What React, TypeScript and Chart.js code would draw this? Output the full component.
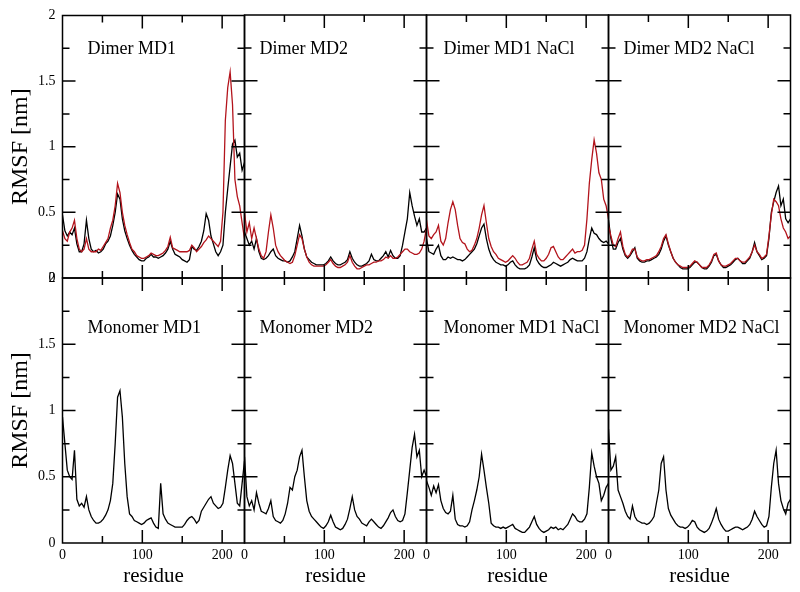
import React, { useEffect, useRef } from "react";
import { Chart, registerables } from "chart.js";

Chart.register(...registerables);

// ---------------- data ----------------
const RESIDUES = [
  0, 3, 6, 9, 12, 15, 18, 21, 24, 27,
  30, 33, 36, 39, 42, 45, 48, 51, 54, 57,
  60, 63, 66, 69, 72, 75, 78, 81, 84, 87,
  90, 93, 96, 99, 102, 105, 108, 111, 114, 117,
  120, 123, 126, 129, 132, 135, 138, 141, 144, 147,
  150, 153, 156, 159, 162, 165, 168, 171, 174, 177,
  180, 183, 186, 189, 192, 195, 198, 201, 204, 207,
  210, 213, 216, 219, 222, 225, 228,
];

const X_TICK_LABELS = [0, 100, 200];
const Y_TICK_LABELS = [0, 0.5, 1, 1.5, 2];
const X_MAJOR_TICKS = [100, 200];
const X_MINOR_TICKS = [50, 150];
const Y_MAJOR_TICKS = [0.5, 1, 1.5];
const Y_MINOR_TICKS = [0.25, 0.75, 1.25, 1.75];
const X_MAX = 228;
const Y_MAX = 2;

const DIMER_MD1_BLACK = [
  0.48, 0.36, 0.32, 0.35, 0.33, 0.38, 0.26, 0.20, 0.20, 0.26,
  0.44, 0.30, 0.22, 0.20, 0.21, 0.19, 0.20, 0.22, 0.26, 0.28,
  0.32, 0.40, 0.50, 0.64, 0.60, 0.45, 0.36, 0.30, 0.25, 0.21,
  0.18, 0.16, 0.14, 0.13, 0.13, 0.15, 0.16, 0.18, 0.16, 0.16,
  0.15, 0.16, 0.17, 0.19, 0.22, 0.28, 0.22, 0.18, 0.17, 0.16,
  0.14, 0.13, 0.12, 0.14, 0.24, 0.22, 0.21, 0.24, 0.28, 0.36,
  0.49, 0.44, 0.32, 0.26, 0.20, 0.17, 0.20, 0.25, 0.50, 0.68,
  0.85, 1.02, 1.05, 0.92, 0.95, 0.82, 0.88,
];
const DIMER_MD1_RED = [
  0.36, 0.30, 0.28, 0.35, 0.38, 0.44, 0.30, 0.22, 0.20, 0.22,
  0.30, 0.22, 0.20, 0.20, 0.20, 0.22, 0.21, 0.24, 0.27, 0.30,
  0.38, 0.44, 0.55, 0.72, 0.65, 0.50, 0.40, 0.33, 0.27, 0.22,
  0.20, 0.17, 0.16, 0.15, 0.15, 0.16, 0.17, 0.19, 0.18, 0.17,
  0.17, 0.18, 0.19, 0.21, 0.24, 0.31, 0.23, 0.22, 0.21, 0.20,
  0.20, 0.20, 0.20, 0.21, 0.25, 0.23, 0.20, 0.22, 0.24, 0.27,
  0.29, 0.32, 0.30, 0.28, 0.26, 0.24, 0.28, 0.50, 1.20, 1.45,
  1.57, 1.32, 0.75, 0.62, 0.55, 0.42, 0.30,
];

const DIMER_MD2_BLACK = [
  0.35, 0.30, 0.25, 0.28, 0.22, 0.30, 0.20, 0.15, 0.14, 0.15,
  0.17, 0.20, 0.22, 0.17, 0.15, 0.14, 0.13, 0.13, 0.12, 0.13,
  0.16, 0.20, 0.30, 0.40, 0.32, 0.22, 0.16, 0.14, 0.12, 0.11,
  0.10, 0.10, 0.10, 0.10, 0.11, 0.13, 0.16, 0.13, 0.11, 0.10,
  0.10, 0.11, 0.12, 0.14, 0.20, 0.15, 0.12, 0.10, 0.09, 0.09,
  0.10, 0.11, 0.13, 0.18, 0.14, 0.13, 0.13, 0.15, 0.17, 0.20,
  0.16, 0.21, 0.17, 0.15, 0.15, 0.17, 0.25, 0.35, 0.45, 0.65,
  0.55, 0.47, 0.40, 0.45, 0.35, 0.35, 0.38,
];
const DIMER_MD2_RED = [
  0.50, 0.35, 0.42, 0.30, 0.38, 0.30, 0.22, 0.17, 0.15, 0.20,
  0.35, 0.48, 0.38, 0.25, 0.20, 0.17, 0.15, 0.13, 0.12, 0.11,
  0.12, 0.17, 0.25, 0.33, 0.30, 0.22, 0.16, 0.12, 0.10, 0.09,
  0.09, 0.09, 0.09, 0.09, 0.10, 0.12, 0.14, 0.11, 0.09, 0.08,
  0.08, 0.09, 0.10, 0.12, 0.17, 0.12, 0.09, 0.07, 0.07, 0.08,
  0.09, 0.10, 0.10, 0.11, 0.12, 0.12, 0.13, 0.13, 0.14, 0.16,
  0.15, 0.17, 0.15, 0.15, 0.16, 0.18, 0.20, 0.22, 0.22, 0.20,
  0.19, 0.18, 0.18, 0.19, 0.22, 0.28, 0.38,
];

const DIMER_MD1_NACL_BLACK = [
  0.30, 0.20, 0.19, 0.18, 0.22, 0.25, 0.17, 0.14, 0.14, 0.16,
  0.15, 0.16, 0.15, 0.14, 0.14, 0.13, 0.14, 0.16, 0.18, 0.20,
  0.22, 0.26, 0.32, 0.38, 0.41, 0.30, 0.22, 0.17, 0.14, 0.12,
  0.11, 0.10, 0.10, 0.09, 0.10, 0.12, 0.13, 0.10, 0.08, 0.07,
  0.07, 0.07, 0.08, 0.10, 0.16, 0.23, 0.14, 0.11, 0.09, 0.08,
  0.08, 0.09, 0.10, 0.12, 0.11, 0.10, 0.09, 0.10, 0.11, 0.12,
  0.14, 0.15, 0.14, 0.13, 0.13, 0.13, 0.15, 0.20, 0.30, 0.38,
  0.34, 0.33, 0.30, 0.28, 0.27, 0.28, 0.26,
];
const DIMER_MD1_NACL_RED = [
  0.44, 0.32, 0.30, 0.33, 0.35, 0.40, 0.28, 0.25, 0.30, 0.42,
  0.52, 0.58, 0.52, 0.40, 0.30, 0.27, 0.26, 0.22, 0.20, 0.21,
  0.25, 0.30, 0.38, 0.48, 0.55, 0.42, 0.30, 0.24, 0.20, 0.18,
  0.15, 0.14, 0.13, 0.12, 0.13, 0.15, 0.17, 0.15, 0.12, 0.10,
  0.10, 0.11, 0.12, 0.15, 0.22, 0.28, 0.18, 0.15, 0.13, 0.13,
  0.15, 0.18, 0.23, 0.24, 0.20, 0.16, 0.14, 0.14, 0.16, 0.18,
  0.20, 0.22, 0.19, 0.20, 0.20, 0.21, 0.25, 0.45, 0.72, 0.90,
  1.05, 0.95, 0.80, 0.75, 0.60, 0.55, 0.45,
];

const DIMER_MD2_NACL_BLACK = [
  0.44, 0.30, 0.22, 0.22, 0.27, 0.30, 0.22, 0.17, 0.15, 0.17,
  0.20, 0.23, 0.15, 0.13, 0.12, 0.12, 0.13, 0.13, 0.14, 0.15,
  0.16, 0.18, 0.22, 0.28, 0.32, 0.25, 0.20, 0.15, 0.12, 0.10,
  0.08, 0.07, 0.07, 0.07, 0.08, 0.10, 0.12, 0.12, 0.10, 0.08,
  0.07, 0.07, 0.09, 0.12, 0.17, 0.18, 0.13, 0.10, 0.08, 0.08,
  0.09, 0.10, 0.12, 0.14, 0.15, 0.13, 0.11, 0.11, 0.13, 0.15,
  0.20, 0.27, 0.20, 0.17, 0.14, 0.15, 0.17, 0.30, 0.50, 0.58,
  0.65, 0.70, 0.55, 0.60, 0.45, 0.42, 0.45,
];
const DIMER_MD2_NACL_RED = [
  0.40, 0.32, 0.25, 0.24, 0.30, 0.35, 0.24, 0.18, 0.16, 0.18,
  0.22, 0.22, 0.16, 0.14, 0.13, 0.13, 0.14, 0.14, 0.15, 0.16,
  0.17, 0.20, 0.24, 0.30, 0.33, 0.26, 0.20, 0.15, 0.12, 0.10,
  0.09, 0.08, 0.08, 0.08, 0.09, 0.11, 0.13, 0.12, 0.10, 0.08,
  0.08, 0.08, 0.10, 0.13, 0.18, 0.19, 0.13, 0.10, 0.09, 0.09,
  0.10, 0.11, 0.13, 0.15, 0.15, 0.13, 0.12, 0.12, 0.14, 0.16,
  0.20, 0.25, 0.20, 0.18, 0.15, 0.16, 0.18, 0.32, 0.48, 0.60,
  0.58, 0.55, 0.45, 0.38, 0.35, 0.30, 0.32,
];

const MONOMER_MD1 = [
  0.95, 0.75, 0.55, 0.50, 0.48, 0.70, 0.33, 0.28, 0.30, 0.27,
  0.35, 0.25, 0.20, 0.17, 0.15, 0.15, 0.16, 0.18, 0.21, 0.25,
  0.32, 0.45, 0.75, 1.10, 1.15, 0.95, 0.60, 0.35, 0.22, 0.20,
  0.17, 0.16, 0.15, 0.14, 0.15, 0.17, 0.18, 0.19, 0.15, 0.12,
  0.11, 0.45, 0.22, 0.18, 0.15, 0.14, 0.13, 0.12, 0.12, 0.12,
  0.12, 0.14, 0.17, 0.19, 0.20, 0.18, 0.15, 0.17, 0.24, 0.27,
  0.30, 0.33, 0.35, 0.30, 0.28, 0.26, 0.27, 0.30, 0.42, 0.55,
  0.66, 0.60, 0.45, 0.30, 0.28, 0.45, 0.62,
];
const MONOMER_MD2 = [
  0.65, 0.35, 0.28, 0.32, 0.25, 0.38, 0.30, 0.24, 0.23, 0.22,
  0.26, 0.32, 0.20, 0.17, 0.16, 0.15, 0.17, 0.22, 0.30, 0.42,
  0.40, 0.50, 0.55, 0.65, 0.70, 0.50, 0.32, 0.24, 0.20, 0.18,
  0.16, 0.14, 0.12, 0.11, 0.13, 0.16, 0.21, 0.16, 0.12, 0.11,
  0.10, 0.11, 0.14, 0.18, 0.26, 0.35, 0.25, 0.20, 0.18, 0.15,
  0.14, 0.13, 0.16, 0.18, 0.16, 0.14, 0.12, 0.11, 0.13, 0.16,
  0.19, 0.23, 0.25, 0.20, 0.17, 0.16, 0.17, 0.22, 0.38, 0.55,
  0.72, 0.82, 0.65, 0.70, 0.50, 0.55, 0.50,
];
const MONOMER_MD1_NACL = [
  0.47, 0.42, 0.36, 0.43, 0.38, 0.44, 0.32, 0.26, 0.23, 0.22,
  0.24, 0.36, 0.18, 0.14, 0.13, 0.13, 0.12, 0.13, 0.16, 0.25,
  0.32, 0.40, 0.50, 0.67, 0.55, 0.42, 0.30, 0.15, 0.13, 0.12,
  0.12, 0.11, 0.12, 0.11, 0.12, 0.13, 0.14, 0.11, 0.10, 0.09,
  0.08, 0.08, 0.10, 0.12, 0.16, 0.20, 0.14, 0.11, 0.09, 0.08,
  0.09, 0.10, 0.12, 0.11, 0.12, 0.10, 0.11, 0.10, 0.12, 0.14,
  0.18, 0.22, 0.20, 0.17, 0.16, 0.16, 0.18, 0.22, 0.42, 0.68,
  0.58, 0.50, 0.45, 0.32, 0.36, 0.42, 0.45,
];
const MONOMER_MD2_NACL = [
  0.86, 0.55, 0.58, 0.65, 0.40, 0.35, 0.30, 0.24, 0.20, 0.18,
  0.28, 0.20, 0.17, 0.16, 0.15, 0.15, 0.14, 0.15, 0.17, 0.20,
  0.30, 0.40, 0.60, 0.65, 0.40, 0.26, 0.21, 0.18, 0.15, 0.13,
  0.12, 0.12, 0.11, 0.12, 0.14, 0.17, 0.16, 0.12, 0.10, 0.09,
  0.08, 0.09, 0.11, 0.15, 0.20, 0.26, 0.18, 0.14, 0.11, 0.09,
  0.09, 0.10, 0.11, 0.12, 0.12, 0.11, 0.10, 0.11, 0.12, 0.14,
  0.18, 0.24, 0.20, 0.17, 0.14, 0.12, 0.13, 0.20, 0.42, 0.60,
  0.70, 0.45, 0.32, 0.26, 0.22, 0.30, 0.33,
];

const PANEL_TITLES = [
  "Dimer MD1", "Dimer MD2", "Dimer MD1 NaCl", "Dimer MD2 NaCl",
  "Monomer MD1", "Monomer MD2", "Monomer MD1 NaCl", "Monomer MD2 NaCl",
];
const Y_TITLE = "RMSF [nm]";
const X_TITLE = "residue";

// ---------------- styling / layout ----------------
const W = 800;
const H = 592;
const FONT = '"Liberation Serif", "Times New Roman", serif';
const BLACK = "#000000";
const RED = "#b3141c";
const COL_LEFT = [62.5, 244.5, 426.5, 608.5];
const PANEL_W = 182;
const ROW_TOP = [15, 278];
const ROW_BOTTOM = [278, 543];
const TITLE_DX = [25, 15, 17, 15];
const TITLE_DY = [39, 55];
const MAJOR_LEN = 13;
const MINOR_LEN = 7;

type Series = { values: number[]; color: string; order: number };
type PanelCfg = { title: string; row: number; col: number; series: Series[] };

const PANELS: PanelCfg[] = [
  { title: PANEL_TITLES[0], row: 0, col: 0, series: [{ values: DIMER_MD1_BLACK, color: BLACK, order: 1 }, { values: DIMER_MD1_RED, color: RED, order: 0 }] },
  { title: PANEL_TITLES[1], row: 0, col: 1, series: [{ values: DIMER_MD2_BLACK, color: BLACK, order: 1 }, { values: DIMER_MD2_RED, color: RED, order: 0 }] },
  { title: PANEL_TITLES[2], row: 0, col: 2, series: [{ values: DIMER_MD1_NACL_BLACK, color: BLACK, order: 1 }, { values: DIMER_MD1_NACL_RED, color: RED, order: 0 }] },
  { title: PANEL_TITLES[3], row: 0, col: 3, series: [{ values: DIMER_MD2_NACL_BLACK, color: BLACK, order: 1 }, { values: DIMER_MD2_NACL_RED, color: RED, order: 0 }] },
  { title: PANEL_TITLES[4], row: 1, col: 0, series: [{ values: MONOMER_MD1, color: BLACK, order: 0 }] },
  { title: PANEL_TITLES[5], row: 1, col: 1, series: [{ values: MONOMER_MD2, color: BLACK, order: 0 }] },
  { title: PANEL_TITLES[6], row: 1, col: 2, series: [{ values: MONOMER_MD1_NACL, color: BLACK, order: 0 }] },
  { title: PANEL_TITLES[7], row: 1, col: 3, series: [{ values: MONOMER_MD2_NACL, color: BLACK, order: 0 }] },
];

function makeFramePlugin(title: string, dx: number, dy: number) {
  return {
    id: "graceFrame",
    afterDraw(chart: any) {
      const { ctx, chartArea: a } = chart;
      const xs = chart.scales.x;
      const ys = chart.scales.y;
      ctx.save();
      ctx.strokeStyle = "#000";
      ctx.lineWidth = 1.5;
      ctx.beginPath();
      ctx.rect(a.left, a.top, a.right - a.left, a.bottom - a.top);
      const seg = (x1: number, y1: number, x2: number, y2: number) => {
        ctx.moveTo(x1, y1);
        ctx.lineTo(x2, y2);
      };
      const xTicks = (vals: number[], len: number) => {
        for (const v of vals) {
          const p = xs.getPixelForValue(v);
          seg(p, a.bottom, p, a.bottom - len);
          seg(p, a.top, p, a.top + len);
        }
      };
      const yTicks = (vals: number[], len: number) => {
        for (const v of vals) {
          const p = ys.getPixelForValue(v);
          seg(a.left, p, a.left + len, p);
          seg(a.right, p, a.right - len, p);
        }
      };
      xTicks(X_MAJOR_TICKS, MAJOR_LEN);
      xTicks(X_MINOR_TICKS, MINOR_LEN);
      yTicks(Y_MAJOR_TICKS, MAJOR_LEN);
      yTicks(Y_MINOR_TICKS, MINOR_LEN);
      ctx.stroke();
      ctx.fillStyle = "#000";
      ctx.font = `18px ${FONT}`;
      ctx.textAlign = "left";
      ctx.textBaseline = "alphabetic";
      ctx.fillText(title, a.left + dx, a.top + dy);
      ctx.restore();
    },
  };
}

function Panel({ panel }: { panel: PanelCfg }) {
  const ref = useRef<HTMLCanvasElement | null>(null);
  useEffect(() => {
    const canvas = ref.current;
    if (!canvas) return;
    const { row, col } = panel;
    const left = COL_LEFT[col];
    const right = left + PANEL_W;
    const top = ROW_TOP[row];
    const bottom = ROW_BOTTOM[row];
    const yAxisW = col === 0 ? left : 0;
    const xAxisH = row === 1 ? H - bottom : 0;
    const chart = new Chart(canvas, {
      type: "line",
      data: {
        labels: RESIDUES,
        datasets: panel.series.map((s) => ({
          data: s.values,
          borderColor: s.color,
          backgroundColor: s.color,
          borderWidth: 1.3,
          pointRadius: 0,
          tension: 0,
          fill: false,
          order: s.order,
        })),
      },
      options: {
        responsive: false,
        animation: false,
        devicePixelRatio: 1,
        events: [],
        layout: {
          padding: {
            left: left - yAxisW,
            right: W - right,
            top: top,
            bottom: H - bottom - xAxisH,
          },
        },
        plugins: { legend: { display: false }, tooltip: { enabled: false }, title: { display: false } },
        scales: {
          x: {
            type: "linear",
            position: "bottom",
            min: 0,
            max: X_MAX,
            afterFit: (s: any) => {
              s.height = xAxisH;
            },
            afterBuildTicks: (s: any) => {
              s.ticks = X_TICK_LABELS.map((v) => ({ value: v }));
            },
            grid: { display: false, drawTicks: false },
            border: { display: false },
            ticks: {
              autoSkip: false,
              maxRotation: 0,
              minRotation: 0,
              padding: 4,
              color: "#000",
              font: { family: FONT, size: 14 },
              callback: (v: any) => String(v),
            },
            title: {
              display: row === 1,
              text: X_TITLE,
              color: "#000",
              font: { family: FONT, size: 21 },
              padding: { top: 0, bottom: 3 },
            },
          },
          y: {
            type: "linear",
            position: "left",
            min: 0,
            max: Y_MAX,
            display: col === 0,
            afterFit: (s: any) => {
              s.width = yAxisW;
            },
            afterBuildTicks: (s: any) => {
              s.ticks = Y_TICK_LABELS.map((v) => ({ value: v }));
            },
            grid: { display: false, drawTicks: false },
            border: { display: false },
            ticks: {
              padding: 7,
              color: "#000",
              font: { family: FONT, size: 14 },
              callback: (v: any) => String(v),
            },
            title: {
              display: col === 0,
              text: Y_TITLE,
              color: "#000",
              font: { family: FONT, size: 24 },
              padding: { top: 6, bottom: 0 },
            },
          },
        },
      } as any,
      plugins: [makeFramePlugin(panel.title, TITLE_DX[col], TITLE_DY[row])],
    });
    return () => chart.destroy();
  }, [panel]);
  return (
    <canvas
      ref={ref}
      width={W}
      height={H}
      style={{ position: "absolute", left: 0, top: 0, width: W, height: H }}
    />
  );
}

export default function App() {
  return (
    <div style={{ position: "absolute", left: 0, top: 0, width: W, height: H, background: "#fff", overflow: "hidden" }}>
      {PANELS.map((p, i) => (
        <Panel key={i} panel={p} />
      ))}
    </div>
  );
}
